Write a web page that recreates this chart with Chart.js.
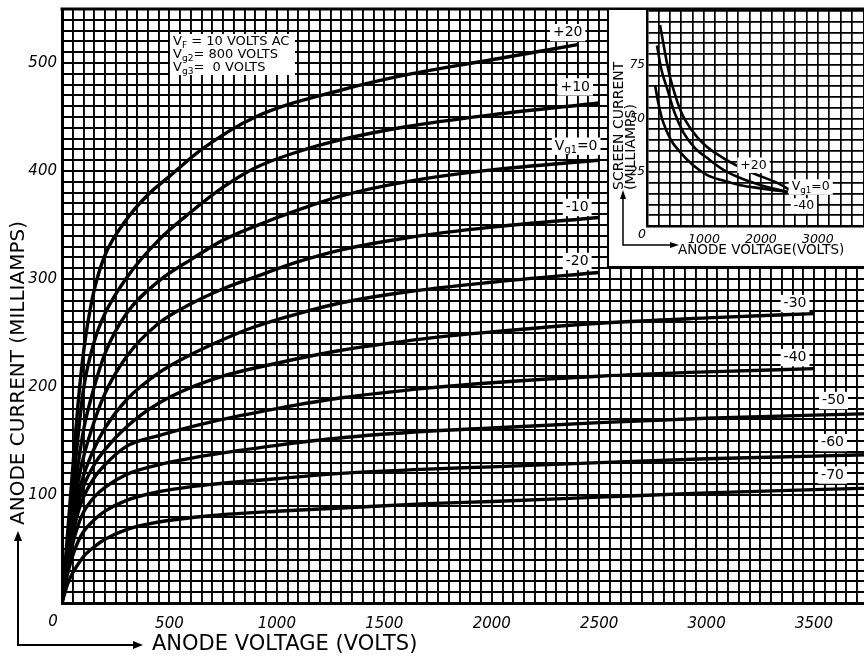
<!DOCTYPE html>
<html>
<head>
<meta charset="utf-8">
<script src="https://cdn.jsdelivr.net/npm/chart.js@4.4.0/dist/chart.umd.min.js"></script>
<style>
  html, body { margin: 0; padding: 0; background: #fff; overflow: hidden; }
  #wrap { position: relative; width: 864px; height: 661px; overflow: hidden; }
  #main { position: absolute; left: 0; top: 0; }
  #insetBox { position: absolute; left: 607px; top: 10px; width: 300px; height: 256px;
    background: #fff; border-left: 2px solid #000; border-bottom: 2px solid #000; }
</style>
</head>
<body>
<div id="wrap">
  <canvas id="main" width="900" height="661"></canvas>
  <div id="insetBox"><canvas id="inset" width="300" height="256"></canvas></div>
</div>
<script>
// anode characteristics (volts / milliamps)
const voltsP20 = [0, 25, 50, 75, 100, 125, 150, 200, 300, 400, 500, 650, 900, 1300, 1600, 2000, 2400];
const iaP20 = [0, 62, 125, 185, 232, 265, 290, 322, 355, 378, 395, 420, 450, 475, 489, 503, 517];

const voltsHigh = [0, 25, 50, 75, 100, 150, 200, 300, 450, 600, 750, 900, 1100, 1300, 1600, 2000, 2500];
const iaP10 = [0, 52, 104, 155, 198, 242, 268, 301, 336, 362, 385, 403, 418, 429, 441, 452, 463];
const ia0 = [0, 46, 90, 128, 160, 200, 231, 268, 298, 318, 336, 349, 364, 377, 390, 401, 410];
const iaM10 = [0, 43, 82, 112, 135, 168, 194, 228, 259, 277, 291, 302, 316, 327, 338, 348, 357];
const iaM20 = [0, 40, 75, 100, 118, 143, 162, 188, 213, 230, 244, 256, 268, 278, 288, 297, 306];

const voltsMid = [0, 25, 50, 75, 100, 150, 200, 300, 450, 700, 1000, 1300, 1700, 2000, 2500, 3000, 3500];
const iaM30 = [0, 38, 70, 92, 108, 128, 142, 163, 185, 207, 222, 234, 245, 251, 259, 264, 268];
const iaM40 = [0, 35, 63, 84, 98, 116, 128, 145, 155, 168, 180, 190, 199, 204, 210, 214, 217];

const voltsLow = [0, 25, 50, 75, 100, 150, 200, 300, 450, 700, 1000, 1300, 1700, 2000, 2500, 3000, 3500, 3900];
const iaM50 = [0, 31, 55, 72, 84, 98, 107, 119, 128, 137.5, 146, 153, 159, 162, 167, 171, 174, 176];
const iaM60 = [0, 26, 44, 57, 66, 77, 85, 95, 103, 110, 115, 120, 124, 126, 130, 133.5, 136, 138];
const iaM70 = [0, 17, 28, 36, 43, 52, 59, 68, 75, 81, 85, 88, 92, 94, 98, 102, 105, 107];

const gridLabels = ['+20', '+10', 'V_g1_=0', '-10', '-20', '-30', '-40', '-50', '-60', '-70'];

// screen current inset
const screenVoltsP20 = [229, 300, 380, 459, 600, 758, 1000, 1340, 1700, 1940, 2250, 2520];
const screenP20 = [93.5, 83, 72, 64, 53, 45.6, 38, 31.6, 26.5, 23.7, 20.5, 16.7];
const screenVolts0 = [176, 250, 353, 480, 635, 850, 1058, 1350, 1640, 2000, 2470];
const screen0 = [84, 73, 64, 53, 43.7, 36, 31.6, 26, 22.3, 19, 15.8];
const screenVoltsM40 = [141, 200, 282, 420, 582, 800, 1058, 1350, 1640, 2000, 2470];
const screenM40 = [65.6, 57, 48.4, 40, 34.4, 28.5, 23.7, 21, 19, 17.5, 15.8];
const insetLabels = ['+20', 'V_g1_=0', '-40'];

const xTickLabels = [500, 1000, 1500, 2000, 2500, 3000, 3500];
const yTickLabels = [100, 200, 300, 400, 500];
const insetXTickLabels = [1000, 2000, 3000];
const insetYTickLabels = [25, 50, 75];
const notes = ['V_F_ = 10 VOLTS AC', 'V_g2_= 800 VOLTS', 'V_g3_=  0 VOLTS'];

const FONT = '"DejaVu Sans", sans-serif';

function pts(xs, ys) {
  return xs.map((x, i) => ({ x: x, y: ys[i] }));
}

// 'V_g1_=0' -> V, subscript g1, =0
function richWidth(ctx, str, size) {
  let w = 0;
  str.split('_').forEach((t, i) => {
    ctx.font = (i % 2 ? size * 0.7 : size) + 'px ' + FONT;
    w += ctx.measureText(t).width;
  });
  return w;
}
function drawRich(ctx, str, x, y, size) {
  let cx = x;
  ctx.textAlign = 'left';
  ctx.textBaseline = 'middle';
  str.split('_').forEach((t, i) => {
    const sub = i % 2 === 1;
    ctx.font = (sub ? size * 0.7 : size) + 'px ' + FONT;
    ctx.fillText(t, cx, y + (sub ? size * 0.3 : 0));
    cx += ctx.measureText(t).width;
  });
}

// pixel y of a drawn curve at a given voltage
function curveY(chart, idx, volts) {
  const ds = chart.data.datasets[idx].data;
  const xs = chart.scales.x, ys = chart.scales.y;
  let v = ds[ds.length - 1].y;
  for (let i = 1; i < ds.length; i++) {
    if (volts <= ds[i].x) {
      const t = (volts - ds[i - 1].x) / (ds[i].x - ds[i - 1].x);
      v = ds[i - 1].y + t * (ds[i].y - ds[i - 1].y);
      break;
    }
  }
  return { x: xs.getPixelForValue(volts), y: ys.getPixelForValue(v) };
}

// align: 'center' puts x at the middle of the box, 'left' at its left edge
function labelBox(ctx, text, x, cy, size, align) {
  const w = richWidth(ctx, text, size);
  const left = align === 'left' ? x + 3 : x - w / 2;
  ctx.fillStyle = '#fff';
  ctx.fillRect(left - 3, cy - size * 0.62, w + 6, size * 1.24);
  ctx.fillStyle = '#000';
  drawRich(ctx, text, left, cy, size);
}

function arrowHead(ctx, x, y, dir) {
  ctx.beginPath();
  if (dir === 'up') { ctx.moveTo(x, y); ctx.lineTo(x - 4, y + 10); ctx.lineTo(x + 4, y + 10); }
  else { ctx.moveTo(x, y); ctx.lineTo(x - 10, y - 4); ctx.lineTo(x - 10, y + 4); }
  ctx.closePath();
  ctx.fill();
}

function noPadY(s, w) { s.width = w; s.paddingTop = 0; s.paddingBottom = 0; }
function noPadX(s, h) { s.height = h; s.paddingLeft = 0; s.paddingRight = 0; }

const labelSpots = [
  { at: 2400, dx: -10, dy: -12 }, { at: 2500, dx: -24, dy: -16 }, { at: 2500, dx: -23, dy: -14 },
  { at: 2500, dx: -22, dy: -10 }, { at: 2500, dx: -22, dy: -11 }, { at: 3500, dx: -19, dy: -10 },
  { at: 3500, dx: -19, dy: -11 }, { at: 3600, dx: -2, dy: -14 }, { at: 3600, dx: -3, dy: -13 },
  { at: 3600, dx: -3, dy: -14 }
];

const mainDecor = {
  id: 'mainDecor',
  afterDraw(chart) {
    const ctx = chart.ctx, a = chart.chartArea;
    ctx.save();
    ctx.fillStyle = '#000';
    ctx.strokeStyle = '#000';
    // top frame
    ctx.lineWidth = 3;
    ctx.beginPath();
    ctx.moveTo(a.left - 1.5, a.top);
    ctx.lineTo(a.right, a.top);
    ctx.stroke();

    ctx.font = 'italic 15px ' + FONT;
    ctx.textAlign = 'center';
    ctx.textBaseline = 'middle';
    ctx.fillText('0', a.left - 9, a.bottom + 19);

    // axis titles with the L arrow
    ctx.font = '21px ' + FONT;
    ctx.textAlign = 'left';
    ctx.fillText('ANODE VOLTAGE (VOLTS)', 152, 645);
    ctx.save();
    ctx.translate(19, 525);
    ctx.rotate(-Math.PI / 2);
    ctx.font = '20px ' + FONT;
    ctx.fillText('ANODE CURRENT (MILLIAMPS)', 0, 0);
    ctx.restore();
    ctx.lineWidth = 2;
    ctx.beginPath();
    ctx.moveTo(18, 538);
    ctx.lineTo(18, 645);
    ctx.lineTo(134, 645);
    ctx.stroke();
    arrowHead(ctx, 18, 531, 'up');
    arrowHead(ctx, 143, 645, 'right');

    // operating conditions
    ctx.fillStyle = '#fff';
    ctx.fillRect(170, 34, 125, 41);
    ctx.fillStyle = '#000';
    notes.forEach((n, i) => drawRich(ctx, n, 173, 42 + i * 13, 13));

    gridLabels.forEach((t, i) => {
      const s = labelSpots[i];
      const p = curveY(chart, i, s.at);
      labelBox(ctx, t, p.x + s.dx, p.y + s.dy, 14, 'center');
    });
    ctx.restore();
  }
};

const insetSpots = [
  { at: 1870, dx: 0, dy: -8, align: 'center' },
  { at: 2470, dx: 1, dy: -5, align: 'left' },
  { at: 2470, dx: 3, dy: 14, align: 'left' }
];

const insetDecor = {
  id: 'insetDecor',
  afterDraw(chart) {
    const ctx = chart.ctx, a = chart.chartArea;
    ctx.save();
    ctx.fillStyle = '#000';
    ctx.strokeStyle = '#000';
    ctx.font = 'italic 12.5px ' + FONT;
    ctx.textAlign = 'center';
    ctx.textBaseline = 'middle';
    ctx.fillText('0', a.left - 5, a.bottom + 9);

    ctx.save();
    ctx.translate(10, 180);
    ctx.rotate(-Math.PI / 2);
    ctx.textAlign = 'left';
    ctx.font = '14px ' + FONT;
    ctx.fillText('SCREEN CURRENT', 0, 0);
    ctx.fillText('(MILLIAMPS)', 0, 12);
    ctx.restore();

    ctx.lineWidth = 1.5;
    ctx.beginPath();
    ctx.moveTo(14, 188);
    ctx.lineTo(14, 235);
    ctx.lineTo(62, 235);
    ctx.stroke();
    ctx.beginPath();
    ctx.moveTo(14, 180); ctx.lineTo(11, 189); ctx.lineTo(17, 189); ctx.closePath(); ctx.fill();
    ctx.beginPath();
    ctx.moveTo(70, 235); ctx.lineTo(61, 232); ctx.lineTo(61, 238); ctx.closePath(); ctx.fill();
    ctx.font = '13.5px ' + FONT;
    ctx.textAlign = 'left';
    ctx.fillText('ANODE VOLTAGE(VOLTS)', 69, 240);

    insetLabels.forEach((t, i) => {
      const s = insetSpots[i];
      const p = curveY(chart, i, s.at);
      labelBox(ctx, t, p.x + s.dx, p.y + s.dy, 12.5, s.align);
    });
    ctx.restore();
  }
};

const black = '#000';
function curve(xs, ys, w) {
  return {
    data: pts(xs, ys),
    borderColor: black,
    borderWidth: w,
    pointRadius: 0,
    fill: false,
    cubicInterpolationMode: 'monotone'
  };
}

new Chart(document.getElementById('main'), {
  type: 'line',
  data: {
    datasets: [
      curve(voltsP20, iaP20, 3.4), curve(voltsHigh, iaP10, 3.4), curve(voltsHigh, ia0, 3.4),
      curve(voltsHigh, iaM10, 3.4), curve(voltsHigh, iaM20, 3.4), curve(voltsMid, iaM30, 3.4),
      curve(voltsMid, iaM40, 3.4), curve(voltsLow, iaM50, 3.4), curve(voltsLow, iaM60, 3.4),
      curve(voltsLow, iaM70, 3.4)
    ]
  },
  options: {
    responsive: false,
    animation: false,
    events: [],
    layout: { padding: { top: 9, right: 0, left: 0, bottom: 0 } },
    plugins: { legend: { display: false }, tooltip: { enabled: false } },
    scales: {
      x: {
        type: 'linear', min: 0, max: 3900,
        grid: { color: black, lineWidth: 1.9, drawTicks: false },
        border: { color: black, width: 3 },
        ticks: {
          stepSize: 50, autoSkip: false, maxRotation: 0, padding: 12, color: black,
          font: { family: 'DejaVu Sans', size: 15, style: 'italic' },
          callback: v => xTickLabels.includes(v) ? String(v) : ''
        },
        afterFit: s => noPadX(s, 58)
      },
      y: {
        type: 'linear', min: 0, max: 550,
        grid: { color: black, lineWidth: 1.9, drawTicks: false },
        border: { color: black, width: 3 },
        ticks: {
          stepSize: 10, autoSkip: false, padding: 5, color: black,
          font: { family: 'DejaVu Sans', size: 15, style: 'italic' },
          callback: v => yTickLabels.includes(v) ? String(v) : ''
        },
        afterFit: s => noPadY(s, 62)
      }
    }
  },
  plugins: [mainDecor]
});

new Chart(document.getElementById('inset'), {
  type: 'line',
  data: {
    datasets: [
      curve(screenVoltsP20, screenP20, 2.6), curve(screenVolts0, screen0, 2.6),
      curve(screenVoltsM40, screenM40, 2.6)
    ]
  },
  options: {
    responsive: false,
    animation: false,
    events: [],
    layout: { padding: { top: 1, right: 0, left: 0, bottom: 0 } },
    plugins: { legend: { display: false }, tooltip: { enabled: false } },
    scales: {
      x: {
        type: 'linear', min: 0, max: 4600,
        grid: { color: black, lineWidth: 1.7, drawTicks: false },
        border: { color: black, width: 2.5 },
        ticks: {
          stepSize: 200, autoSkip: false, maxRotation: 0, padding: 6, color: black,
          font: { family: 'DejaVu Sans', size: 12.5, style: 'italic' },
          callback: v => insetXTickLabels.includes(v) ? String(v) : ''
        },
        afterFit: s => noPadX(s, 40)
      },
      y: {
        type: 'linear', min: 0, max: 100,
        grid: { color: black, lineWidth: 1.7, drawTicks: false },
        border: { color: black, width: 2.5 },
        ticks: {
          stepSize: 5, autoSkip: false, padding: 2, color: black,
          font: { family: 'DejaVu Sans', size: 12, style: 'italic' },
          callback: v => insetYTickLabels.includes(v) ? String(v) : ''
        },
        afterFit: s => noPadY(s, 38)
      }
    }
  },
  plugins: [insetDecor]
});
</script>
</body>
</html>
